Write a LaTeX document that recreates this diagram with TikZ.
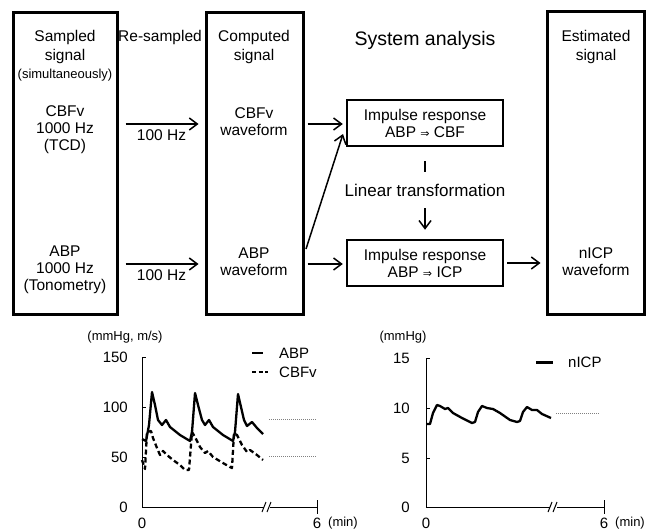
\documentclass[tikz,border=0pt]{standalone}
\usepackage{fontspec}
\setmainfont{Liberation Sans}
\newfontfamily\arrowfont{DejaVu Sans}
\usetikzlibrary{arrows.meta}

\tikzset{
  stage/.style={draw, line width=3pt, minimum width=#1, minimum height=302pt, inner sep=0pt},
  irbox/.style={draw, line width=2.5pt, minimum width=156pt, minimum height=46pt, align=center,
    inner sep=0pt, font=\fontsize{15.5}{17}\selectfont},
  flow/.style={-{Straight Barb[length=8pt,width=12pt]}, line width=1.5pt},
  axis/.style={line width=1pt},
  trace/.style={line width=2.3pt, line join=round},
  guide/.style={gray, line width=0.8pt, dash pattern=on 1pt off 1pt},
  title/.style={font=\fontsize{15.5}{19}\selectfont, align=center, inner sep=0pt},
  body/.style={font=\fontsize{15.5}{17}\selectfont, align=center, inner sep=0pt},
  tiny/.style={font=\fontsize{13}{15}\selectfont, inner sep=0pt},
  num/.style={font=\fontsize{15}{17}\selectfont, inner sep=0pt}
}
\newcommand{\imp}{{\arrowfont\fontsize{11}{13}\selectfont ⇒}}

\begin{document}
\begin{tikzpicture}[x=1pt,y=-1pt]
        \useasboundingbox (0,0) rectangle (647,532);

        \begin{scope}
          \node[stage=104pt] (sampled)   at (65,163.5)  {};
          \node[stage=97pt]  (computed)  at (254.5,163.5) {};
          \node[stage=97pt]  (estimated) at (595.5,163) {};
          \node[irbox] (irtop) at (425,123) {Impulse response\\ABP \imp{} CBF};
          \node[irbox] (irbot) at (425,263) {Impulse response\\ABP \imp{} ICP};
        \end{scope}

        \node[title] (sampledtitle)   at (65,46.5)  {Sampled\\signal};
        \node[tiny]  (simult)         at (65,75)    {(simultaneously)};
        \node[title] (resampled)      at (160,37)   {Re-sampled};
        \node[title] (computedtitle)  at (254,46.5) {Computed\\signal};
        \node[title, font=\fontsize{19.5}{22}\selectfont] (sysan) at (425,40) {System analysis};
        \node[title] (estimatedtitle) at (596,46.5) {Estimated\\signal};

        \begin{scope}[every node/.style={body}]
          \node (cbfsrc) at (65,130)    {CBFv\\1000 Hz\\(TCD)};
          \node (abpsrc) at (65,270)    {ABP\\1000 Hz\\(Tonometry)};
          \node (cbfwav) at (254,121.5) {CBFv\\waveform};
          \node (abpwav) at (254,261.5) {ABP\\waveform};
          \node (icpwav) at (596,261.5) {nICP\\waveform};
          \node[font=\fontsize{17}{19}\selectfont] (lin) at (425,190) {Linear transformation};
        \end{scope}

        \coordinate (row1)     at (0,124);
        \coordinate (row2)     at (0,264);
        \coordinate (diagfrom) at (306,249);
        \coordinate (diagto)   at (343,134);

        \begin{scope}[every node/.style={body}]
          \path[flow] (sampled.east |- row1) edge[shorten <=7pt, shorten >=6pt] node[below=5pt] {100 Hz} (computed.west |- row1);
          \path[flow] (sampled.east |- row2) edge[shorten <=7pt, shorten >=6pt] node[below=5pt] {100 Hz} (computed.west |- row2);
          \path[flow] (computed.east |- row1) edge[shorten <=3pt, shorten >=3pt] (irtop.west |- row1);
          \path[flow] (computed.east |- row2) edge[shorten <=3pt, shorten >=3pt] (irbot.west |- row2);
          \path[flow] (diagfrom) edge (diagto);
          \path[flow] (irbot.east) edge[shorten <=3pt, shorten >=5pt] (estimated.west |- irbot.east);
          \path[line width=1.5pt] (irtop) edge[shorten <=14pt, shorten >=12pt] (lin);
          \path[flow] (lin) edge[shorten <=12pt, shorten >=9pt] (irbot);
        \end{scope}

        % left chart
        \draw[axis] (142,357) -- (142,507) -- (264,507);
        \draw[axis] (270,507) -- (317,507);
        \draw[axis] (262,512) -- (266,502) (267,512) -- (271,502);
        \draw[axis] (317,500) -- (317,514);
        \foreach \v in {150,100,50} \draw[axis] (142,507-\v) -- (146,507-\v);
        \begin{scope}[every node/.style={num}]
          \node[anchor=east] (l150) at (128,357) {150};
          \node[anchor=east] (l100) at (128,407) {100};
          \node[anchor=east] (l50)  at (128,457) {50};
          \node[anchor=east] (l0)   at (128,507) {0};
          \node (lx0) at (142,523) {0};
          \node (lx6) at (317,523) {6};
          \node[tiny] (lmin)  at (343,523) {(min)};
          \node[tiny] (lunit) at (125,337) {(mmHg, m/s)};
          \node[anchor=west] (labp) at (279,353) {ABP};
          \node[anchor=west] (lcbf) at (279,372) {CBFv};
        \end{scope}
        \draw[trace] (252,353) -- (263,353);
        \draw[trace, dash pattern=on 4pt off 2.5pt] (252,372) -- (268,372);
        \draw[trace] plot coordinates {(142,439) (146,441) (149,425) (152,392) (155,405) (158,420) (162,425) (166,420) (170,427) (180,435) (190,441) (192,432) (195,393) (198,405) (202,420) (205,425) (209,420) (213,427) (223,435) (233,441) (235,432) (238,394) (241,407) (244,420) (247,426) (252,422) (257,428) (263,434)};
        \draw[trace, dash pattern=on 5pt off 3pt] plot coordinates {(142,460) (145,469) (147,432) (151,431) (153,438) (157,448) (160,455) (163,451) (167,455) (173,460) (180,465) (185,470) (189,470) (192,432) (195,437) (200,447) (205,453) (208,451) (213,457) (223,463) (230,467) (232,468) (234,433) (237,435) (242,445) (247,452) (250,450) (257,455) (263,460)};
        \draw[guide] (269,419) -- (317,419);
        \draw[guide] (269,456) -- (317,456);

        % right chart
        \draw[axis] (426,358) -- (426,507) -- (550,507);
        \draw[axis] (557,507) -- (604,507);
        \draw[axis] (548,512) -- (552,502) (553,512) -- (557,502);
        \draw[axis] (604,500) -- (604,514);
        \foreach \v in {358,408,458} \draw[axis] (426,\v) -- (430,\v);
        \begin{scope}[every node/.style={num}]
          \node[anchor=east] (r15) at (410,358) {15};
          \node[anchor=east] (r10) at (410,408) {10};
          \node[anchor=east] (r5)  at (410,458) {5};
          \node[anchor=east] (r0)  at (410,507) {0};
          \node (rx0) at (426,523) {0};
          \node (rx6) at (604,523) {6};
          \node[tiny] (rmin)  at (630,523) {(min)};
          \node[tiny] (runit) at (403,337) {(mmHg)};
          \node[anchor=west] (licp) at (568,362) {nICP};
        \end{scope}
        \draw[trace, line width=3pt] (536,362) -- (553,362);
        \draw[trace] plot coordinates {(426,424) (430,424) (433,413) (437,405) (440,406) (445,409) (448,408) (453,413) (462,418) (472,423) (475,422) (478,412) (482,406) (487,408) (493,409) (500,413) (510,420) (517,422) (520,421) (523,412) (527,407) (532,410) (537,410) (542,414) (551,418)};
        \draw[guide] (556,413) -- (600,413);

      \end{tikzpicture}
\end{document}
